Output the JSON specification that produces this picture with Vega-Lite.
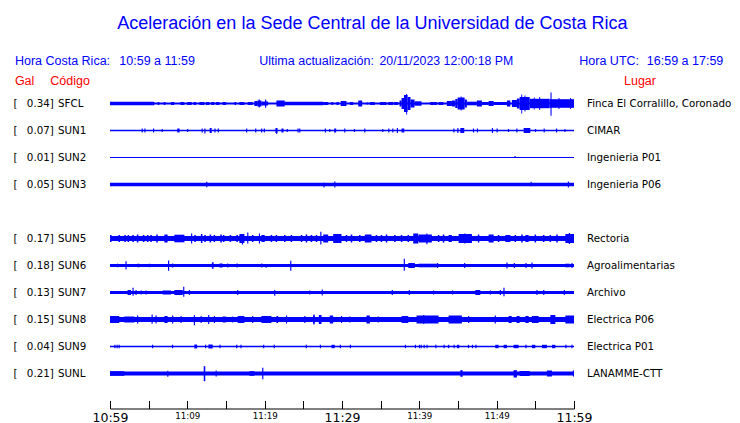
{
"$schema":"https://vega.github.io/schema/vega-lite/v6.json",
"background":"white",
"padding":{"left":13,"top":14,"right":4,"bottom":0},
"title":{"text":"Aceleración en la Sede Central de la Universidad de Costa Rica","font":"Liberation Sans","fontSize":18,"fontWeight":"normal","color":"#0000ff","anchor":"middle","frame":"bounds","offset":22},
"data":{"values":[
{"o":1,"s":"SFCL","g":"0.34","p":"Finca El Corralillo, Coronado"},
{"o":2,"s":"SUN1","g":"0.07","p":"CIMAR"},
{"o":3,"s":"SUN2","g":"0.01","p":"Ingenieria P01"},
{"o":4,"s":"SUN3","g":"0.05","p":"Ingenieria P06"},
{"o":5},
{"o":6,"s":"SUN5","g":"0.17","p":"Rectoria"},
{"o":7,"s":"SUN6","g":"0.18","p":"Agroalimentarias"},
{"o":8,"s":"SUN7","g":"0.13","p":"Archivo"},
{"o":9,"s":"SUN8","g":"0.15","p":"Electrica P06"},
{"o":10,"s":"SUN9","g":"0.04","p":"Electrica P01"},
{"o":11,"s":"SUNL","g":"0.21","p":"LANAMME-CTT"},

{"o":1,"a":0,"b":60,"lo":-0.9,"hi":0.9},
{"o":1,"a":0,"b":5.73,"lo":-1.8,"hi":1.8},
{"o":1,"a":6.16,"b":6.38,"lo":-1.5,"hi":1.5},
{"o":1,"a":6.94,"b":7.16,"lo":-1.5,"hi":1.5},
{"o":1,"a":7.89,"b":8.32,"lo":-1.5,"hi":1.5},
{"o":1,"a":9.1,"b":9.61,"lo":-1.5,"hi":1.5},
{"o":1,"a":9.97,"b":10.56,"lo":-1.5,"hi":1.5},
{"o":1,"a":10.82,"b":11.13,"lo":-1.5,"hi":1.5},
{"o":1,"a":11.56,"b":12.2,"lo":-1.5,"hi":1.5},
{"o":1,"a":12.42,"b":12.85,"lo":-1.5,"hi":1.5},
{"o":1,"a":13.07,"b":13.5,"lo":-1.5,"hi":1.5},
{"o":1,"a":13.72,"b":14.15,"lo":-1.5,"hi":1.5},
{"o":1,"a":14.57,"b":15.01,"lo":-1.5,"hi":1.5},
{"o":1,"a":16.09,"b":16.31,"lo":-1.5,"hi":1.5},
{"o":1,"a":16.73,"b":17.38,"lo":-1.5,"hi":1.5},
{"o":1,"a":17.81,"b":18.45,"lo":-1.5,"hi":1.5},
{"o":1,"a":18.67,"b":19.06,"lo":-2.5,"hi":2.5},
{"o":1,"a":19.06,"b":19.58,"lo":-3,"hi":3},
{"o":1,"a":19.22,"b":19.37,"lo":-4,"hi":4},
{"o":1,"a":19.58,"b":20.45,"lo":-2,"hi":2},
{"o":1,"a":20.05,"b":20.2,"lo":-4.3,"hi":4},
{"o":1,"a":21.52,"b":22.6,"lo":-3,"hi":3},
{"o":1,"a":22.6,"b":27.57,"lo":-1.8,"hi":1.8},
{"o":1,"a":27.57,"b":28.21,"lo":-1.5,"hi":1.5},
{"o":1,"a":28.64,"b":28.86,"lo":-1.5,"hi":1.5},
{"o":1,"a":29.29,"b":29.58,"lo":-1.5,"hi":1.5},
{"o":1,"a":29.84,"b":30.58,"lo":-2.5,"hi":2.5},
{"o":1,"a":31.01,"b":31.45,"lo":-1.5,"hi":1.5},
{"o":1,"a":32.1,"b":32.61,"lo":-3,"hi":3},
{"o":1,"a":33.17,"b":33.39,"lo":-1,"hi":1},
{"o":1,"a":33.6,"b":34.24,"lo":-1.5,"hi":1.5},
{"o":1,"a":34.89,"b":35.76,"lo":-1.5,"hi":1.5},
{"o":1,"a":35.98,"b":36.63,"lo":-1.5,"hi":1.5},
{"o":1,"a":36.75,"b":37.27,"lo":-1.5,"hi":1.5},
{"o":1,"a":37.44,"b":37.7,"lo":-3,"hi":3},
{"o":1,"a":37.7,"b":38.02,"lo":-5.5,"hi":5.5},
{"o":1,"a":38.02,"b":38.48,"lo":-8.5,"hi":8.5},
{"o":1,"a":38.3,"b":38.42,"lo":-11,"hi":9.5},
{"o":1,"a":38.48,"b":38.86,"lo":-6.5,"hi":6.5},
{"o":1,"a":38.86,"b":39.38,"lo":-4,"hi":4},
{"o":1,"a":39.38,"b":40.29,"lo":-2.2,"hi":2.2},
{"o":1,"a":41.41,"b":42.27,"lo":-1.5,"hi":1.5},
{"o":1,"a":42.49,"b":43.13,"lo":-1.5,"hi":1.5},
{"o":1,"a":43.56,"b":44.21,"lo":-2.5,"hi":2.5},
{"o":1,"a":44.21,"b":44.65,"lo":-3,"hi":3},
{"o":1,"a":44.65,"b":44.95,"lo":-4.5,"hi":4.5},
{"o":1,"a":44.95,"b":45.86,"lo":-6,"hi":6},
{"o":1,"a":45.35,"b":45.47,"lo":-7,"hi":7},
{"o":1,"a":45.86,"b":46.15,"lo":-4,"hi":4},
{"o":1,"a":46.15,"b":47.44,"lo":-1.8,"hi":1.8},
{"o":1,"a":47.44,"b":48.09,"lo":-3,"hi":3},
{"o":1,"a":48.09,"b":48.96,"lo":-1.5,"hi":1.5},
{"o":1,"a":48.96,"b":49.61,"lo":-2.5,"hi":2.5},
{"o":1,"a":49.61,"b":51.33,"lo":-1.5,"hi":1.5},
{"o":1,"a":51.33,"b":51.77,"lo":-3,"hi":3},
{"o":1,"a":51.97,"b":52.62,"lo":-3.5,"hi":3.5},
{"o":1,"a":52.62,"b":52.97,"lo":-5,"hi":5},
{"o":1,"a":52.97,"b":54.27,"lo":-6.5,"hi":6.5},
{"o":1,"a":53.18,"b":53.3,"lo":-10,"hi":9},
{"o":1,"a":53.6,"b":53.72,"lo":-8,"hi":8},
{"o":1,"a":54.27,"b":56.86,"lo":-4.7,"hi":4.7},
{"o":1,"a":54.8,"b":54.92,"lo":-6,"hi":6},
{"o":1,"a":55.5,"b":55.62,"lo":-6.5,"hi":6.5},
{"o":1,"a":56.86,"b":60,"lo":-4.3,"hi":4.3},
{"o":1,"a":56.96,"b":57.1,"lo":-12.3,"hi":11},
{"o":1,"a":58.0,"b":58.12,"lo":-5.5,"hi":5.5},
{"o":1,"a":59.5,"b":59.62,"lo":-5.5,"hi":5.5},

{"o":2,"a":0,"b":60,"lo":-0.7,"hi":0.7},
{"o":2,"a":4.09,"b":4.24,"lo":-2,"hi":2},
{"o":2,"a":4.44,"b":4.59,"lo":-2,"hi":2},
{"o":2,"a":5.56,"b":5.71,"lo":-2,"hi":2},
{"o":2,"a":6.68,"b":6.83,"lo":-1.5,"hi":1.5},
{"o":2,"a":8.7,"b":9.0,"lo":-2,"hi":2},
{"o":2,"a":9.97,"b":10.12,"lo":-1.5,"hi":1.5},
{"o":2,"a":11.85,"b":12.0,"lo":-2,"hi":2},
{"o":2,"a":12.2,"b":12.35,"lo":-3,"hi":2},
{"o":2,"a":12.89,"b":13.15,"lo":-2.5,"hi":2.5},
{"o":2,"a":13.5,"b":13.65,"lo":-2,"hi":2},
{"o":2,"a":13.93,"b":14.08,"lo":-2,"hi":2},
{"o":2,"a":17.6,"b":17.75,"lo":-2,"hi":2},
{"o":2,"a":18.77,"b":18.92,"lo":-2,"hi":2},
{"o":2,"a":19.54,"b":19.69,"lo":-2,"hi":2},
{"o":2,"a":19.88,"b":20.03,"lo":-2,"hi":2},
{"o":2,"a":21.39,"b":21.65,"lo":-2.5,"hi":2.5},
{"o":2,"a":21.5,"b":21.62,"lo":-3.5,"hi":2.5},
{"o":2,"a":22.17,"b":22.43,"lo":-2,"hi":2},
{"o":2,"a":22.85,"b":23.0,"lo":-1.5,"hi":1.5},
{"o":2,"a":24.24,"b":24.39,"lo":-2,"hi":2},
{"o":2,"a":24.46,"b":24.61,"lo":-2,"hi":2},
{"o":2,"a":27.77,"b":27.92,"lo":-2,"hi":2},
{"o":2,"a":28.34,"b":28.49,"lo":-1.5,"hi":1.5},
{"o":2,"a":28.99,"b":29.25,"lo":-2,"hi":2},
{"o":2,"a":30.28,"b":30.43,"lo":-2,"hi":2},
{"o":2,"a":31.53,"b":31.68,"lo":-1.5,"hi":1.5},
{"o":2,"a":32.87,"b":33.02,"lo":-2,"hi":2},
{"o":2,"a":35.2,"b":35.35,"lo":-1.5,"hi":1.5},
{"o":2,"a":35.98,"b":36.13,"lo":-2,"hi":2},
{"o":2,"a":36.5,"b":36.65,"lo":-2,"hi":2},
{"o":2,"a":37.09,"b":37.24,"lo":-2.5,"hi":2.5},
{"o":2,"a":37.7,"b":38.05,"lo":-2,"hi":2},
{"o":2,"a":44.39,"b":44.54,"lo":-2,"hi":2},
{"o":2,"a":44.91,"b":45.06,"lo":-2.5,"hi":2.5},
{"o":2,"a":45.3,"b":45.81,"lo":-2.5,"hi":2.5},
{"o":2,"a":46.93,"b":47.08,"lo":-2,"hi":2},
{"o":2,"a":47.44,"b":47.59,"lo":-2,"hi":2},
{"o":2,"a":49.38,"b":49.53,"lo":-2.5,"hi":2.5},
{"o":2,"a":49.99,"b":50.14,"lo":-2,"hi":2},
{"o":2,"a":51.46,"b":51.61,"lo":-1.5,"hi":1.5},
{"o":2,"a":52.54,"b":52.69,"lo":-2,"hi":2},
{"o":2,"a":53.49,"b":54.35,"lo":-2.5,"hi":2.5},
{"o":2,"a":54.95,"b":55.1,"lo":-1.5,"hi":1.5},
{"o":2,"a":56.07,"b":56.22,"lo":-2,"hi":2},
{"o":2,"a":57.67,"b":57.82,"lo":-2,"hi":2},
{"o":2,"a":58.75,"b":58.9,"lo":-1.5,"hi":1.5},

{"o":3,"a":0,"b":60,"lo":-0.6,"hi":0.6},
{"o":3,"a":52.3,"b":52.45,"lo":-0.6,"hi":1.5},

{"o":4,"a":0,"b":60,"lo":-1.7,"hi":1.7},
{"o":4,"a":12.44,"b":12.59,"lo":-2.7,"hi":2.7},
{"o":4,"a":27.6,"b":27.75,"lo":-3,"hi":1.7},
{"o":4,"a":29.0,"b":29.15,"lo":-3,"hi":3},
{"o":4,"a":54.38,"b":54.53,"lo":-1.7,"hi":2.7},
{"o":4,"a":59.2,"b":59.35,"lo":-3,"hi":3},

{"o":6,"a":0,"b":60,"lo":-2.5,"hi":2.5},
{"o":6,"a":0,"b":0.2,"lo":-3.5,"hi":3.5},
{"o":6,"a":1.1,"b":1.3,"lo":-3.5,"hi":3.5},
{"o":6,"a":1.85,"b":2.05,"lo":-3.5,"hi":3.5},
{"o":6,"a":2.27,"b":2.47,"lo":-3.5,"hi":3.5},
{"o":6,"a":2.88,"b":3.08,"lo":-3.5,"hi":3.5},
{"o":6,"a":3.47,"b":3.67,"lo":-4,"hi":4},
{"o":6,"a":4.25,"b":4.45,"lo":-3.5,"hi":3.5},
{"o":6,"a":4.77,"b":4.97,"lo":-3.5,"hi":3.5},
{"o":6,"a":5.21,"b":5.41,"lo":-3.5,"hi":3.5},
{"o":6,"a":5.98,"b":6.18,"lo":-4,"hi":4},
{"o":6,"a":7.03,"b":7.45,"lo":-4,"hi":4},
{"o":6,"a":8.32,"b":9.62,"lo":-3.8,"hi":3.8},
{"o":6,"a":10.48,"b":10.63,"lo":-5,"hi":5},
{"o":6,"a":10.9,"b":11.1,"lo":-3.5,"hi":3.5},
{"o":6,"a":11.75,"b":11.95,"lo":-4.5,"hi":4.5},
{"o":6,"a":12.19,"b":12.39,"lo":-3.5,"hi":3.5},
{"o":6,"a":12.88,"b":13.08,"lo":-4,"hi":4},
{"o":6,"a":13.4,"b":13.6,"lo":-3.5,"hi":3.5},
{"o":6,"a":14.26,"b":14.46,"lo":-4,"hi":4},
{"o":6,"a":14.6,"b":14.8,"lo":-3.5,"hi":3.5},
{"o":6,"a":15.47,"b":15.67,"lo":-3.5,"hi":3.5},
{"o":6,"a":16.34,"b":16.54,"lo":-3.5,"hi":3.5},
{"o":6,"a":16.73,"b":17.38,"lo":-4.5,"hi":4.5},
{"o":6,"a":17.05,"b":17.2,"lo":-6,"hi":4.5},
{"o":6,"a":17.74,"b":17.89,"lo":-5,"hi":6},
{"o":6,"a":18.35,"b":18.55,"lo":-3.5,"hi":3.5},
{"o":6,"a":19.25,"b":19.4,"lo":-5,"hi":5},
{"o":6,"a":19.58,"b":20.01,"lo":-3.5,"hi":3.5},
{"o":6,"a":20.77,"b":20.97,"lo":-3.5,"hi":3.5},
{"o":6,"a":21.42,"b":21.62,"lo":-3.5,"hi":3.5},
{"o":6,"a":22.5,"b":22.7,"lo":-3.5,"hi":3.5},
{"o":6,"a":23.36,"b":23.56,"lo":-3.5,"hi":3.5},
{"o":6,"a":24.66,"b":24.86,"lo":-3.5,"hi":3.5},
{"o":6,"a":25.3,"b":25.5,"lo":-4,"hi":4},
{"o":6,"a":25.95,"b":26.15,"lo":-3.5,"hi":3.5},
{"o":6,"a":26.6,"b":26.8,"lo":-3.5,"hi":3.5},
{"o":6,"a":27.19,"b":27.34,"lo":-6,"hi":6.7},
{"o":6,"a":27.57,"b":28.21,"lo":-4,"hi":4},
{"o":6,"a":28.86,"b":29.93,"lo":-4.5,"hi":4.5},
{"o":6,"a":30.48,"b":30.68,"lo":-3.5,"hi":3.5},
{"o":6,"a":31.13,"b":31.33,"lo":-4,"hi":4},
{"o":6,"a":32.2,"b":32.4,"lo":-3.5,"hi":3.5},
{"o":6,"a":32.95,"b":33.82,"lo":-4,"hi":4},
{"o":6,"a":34.36,"b":34.56,"lo":-3.5,"hi":3.5},
{"o":6,"a":35.01,"b":35.21,"lo":-3.5,"hi":3.5},
{"o":6,"a":35.66,"b":35.86,"lo":-4,"hi":4},
{"o":6,"a":36.73,"b":36.93,"lo":-3.5,"hi":3.5},
{"o":6,"a":37.6,"b":37.8,"lo":-3.5,"hi":3.5},
{"o":6,"a":38.47,"b":38.67,"lo":-3.5,"hi":3.5},
{"o":6,"a":39.21,"b":39.86,"lo":-5,"hi":5},
{"o":6,"a":39.9,"b":41.62,"lo":-4,"hi":4},
{"o":6,"a":40.9,"b":41.05,"lo":-5.7,"hi":5},
{"o":6,"a":42.39,"b":42.59,"lo":-3.5,"hi":3.5},
{"o":6,"a":43.03,"b":43.23,"lo":-4,"hi":4},
{"o":6,"a":43.78,"b":44.21,"lo":-3.5,"hi":3.5},
{"o":6,"a":45.08,"b":46.8,"lo":-4.5,"hi":4.5},
{"o":6,"a":45.8,"b":45.95,"lo":-5,"hi":5},
{"o":6,"a":47.56,"b":47.76,"lo":-4,"hi":4},
{"o":6,"a":48.96,"b":49.61,"lo":-4,"hi":4},
{"o":6,"a":50.15,"b":50.35,"lo":-3.5,"hi":3.5},
{"o":6,"a":51.12,"b":51.77,"lo":-3.5,"hi":3.5},
{"o":6,"a":52.31,"b":52.51,"lo":-3.5,"hi":3.5},
{"o":6,"a":53.17,"b":53.37,"lo":-4,"hi":4},
{"o":6,"a":53.71,"b":54.14,"lo":-3.5,"hi":3.5},
{"o":6,"a":54.9,"b":55.1,"lo":-4,"hi":4},
{"o":6,"a":55.98,"b":56.18,"lo":-3.5,"hi":3.5},
{"o":6,"a":56.84,"b":57.04,"lo":-3.5,"hi":3.5},
{"o":6,"a":57.7,"b":57.9,"lo":-4,"hi":4},
{"o":6,"a":58.88,"b":60,"lo":-4.5,"hi":4.5},
{"o":6,"a":59.33,"b":59.48,"lo":-5.5,"hi":5.5},

{"o":7,"a":0,"b":60,"lo":-1.4,"hi":1.4},
{"o":7,"a":0.9,"b":1.05,"lo":-1.8,"hi":1.8},
{"o":7,"a":2.0,"b":2.15,"lo":-4,"hi":4.3},
{"o":7,"a":3.57,"b":3.79,"lo":-1.8,"hi":1.8},
{"o":7,"a":5.02,"b":5.17,"lo":-1.8,"hi":1.8},
{"o":7,"a":7.5,"b":7.65,"lo":-5.3,"hi":5},
{"o":7,"a":8.03,"b":8.18,"lo":-2,"hi":2},
{"o":7,"a":13.15,"b":13.41,"lo":-2,"hi":2},
{"o":7,"a":13.22,"b":13.37,"lo":-3.5,"hi":3.5},
{"o":7,"a":14.15,"b":14.57,"lo":-2,"hi":2},
{"o":7,"a":15.15,"b":15.3,"lo":-2,"hi":2},
{"o":7,"a":16.37,"b":16.52,"lo":-2,"hi":2},
{"o":7,"a":19.55,"b":19.7,"lo":-2,"hi":2},
{"o":7,"a":20.12,"b":20.27,"lo":-2.3,"hi":1.4},
{"o":7,"a":23.3,"b":23.45,"lo":-5.3,"hi":4.7},
{"o":7,"a":37.98,"b":38.13,"lo":-5.3,"hi":6.7},
{"o":7,"a":38.57,"b":39.42,"lo":-2.5,"hi":2.5},
{"o":7,"a":39.9,"b":42.27,"lo":-1.8,"hi":1.8},
{"o":7,"a":42.29,"b":42.44,"lo":-2.5,"hi":2.5},
{"o":7,"a":45.79,"b":45.94,"lo":-2.5,"hi":2.5},
{"o":7,"a":51.26,"b":51.41,"lo":-3,"hi":3},
{"o":7,"a":52.21,"b":52.36,"lo":-2.5,"hi":2.5},
{"o":7,"a":53.72,"b":53.87,"lo":-2.5,"hi":2.5},
{"o":7,"a":54.49,"b":54.64,"lo":-3,"hi":3},
{"o":7,"a":58.88,"b":59.44,"lo":-1.8,"hi":1.8},
{"o":7,"a":59.67,"b":59.82,"lo":-2.5,"hi":2.5},

{"o":8,"a":0,"b":60,"lo":-1.4,"hi":1.4},
{"o":8,"a":2.28,"b":2.72,"lo":-2.5,"hi":2.5},
{"o":8,"a":2.91,"b":3.06,"lo":-3.3,"hi":4.7},
{"o":8,"a":3.29,"b":3.44,"lo":-2.5,"hi":2.5},
{"o":8,"a":3.94,"b":4.09,"lo":-2,"hi":2},
{"o":8,"a":4.59,"b":4.74,"lo":-2,"hi":2},
{"o":8,"a":6.81,"b":7.89,"lo":-2,"hi":2},
{"o":8,"a":8.32,"b":9.4,"lo":-2.5,"hi":2.5},
{"o":8,"a":9.46,"b":9.61,"lo":-4.3,"hi":5.7},
{"o":8,"a":10.19,"b":10.34,"lo":-2.5,"hi":2.5},
{"o":8,"a":16.44,"b":16.59,"lo":-2.5,"hi":2.5},
{"o":8,"a":21.23,"b":21.38,"lo":-3.3,"hi":2.5},
{"o":8,"a":25.76,"b":25.91,"lo":-2,"hi":2},
{"o":8,"a":27.37,"b":27.52,"lo":-3,"hi":3},
{"o":8,"a":36.43,"b":36.58,"lo":-2.5,"hi":2.5},
{"o":8,"a":38.63,"b":38.78,"lo":-2.5,"hi":2.5},
{"o":8,"a":41.77,"b":41.92,"lo":-2,"hi":2},
{"o":8,"a":44.23,"b":44.38,"lo":-2,"hi":2},
{"o":8,"a":47.24,"b":47.88,"lo":-2.5,"hi":2.5},
{"o":8,"a":49.11,"b":49.26,"lo":-2,"hi":2},
{"o":8,"a":50.4,"b":50.55,"lo":-2.5,"hi":2.5},
{"o":8,"a":50.87,"b":51.02,"lo":-3.7,"hi":4.7},
{"o":8,"a":55.14,"b":55.29,"lo":-2.5,"hi":2.5},
{"o":8,"a":56.01,"b":56.16,"lo":-2.5,"hi":2.5},
{"o":8,"a":58.68,"b":58.83,"lo":-2.5,"hi":2.5},

{"o":9,"a":0,"b":60,"lo":-2.5,"hi":2.5},
{"o":9,"a":0,"b":1.2,"lo":-3.5,"hi":3.5},
{"o":9,"a":1.85,"b":3.15,"lo":-3,"hi":3},
{"o":9,"a":3.5,"b":3.65,"lo":-4,"hi":4},
{"o":9,"a":5.37,"b":5.52,"lo":-4.3,"hi":5},
{"o":9,"a":5.88,"b":6.03,"lo":-4,"hi":4},
{"o":9,"a":7.03,"b":7.45,"lo":-3.5,"hi":3.5},
{"o":9,"a":8.03,"b":8.18,"lo":-4,"hi":4},
{"o":9,"a":9.12,"b":9.27,"lo":-3.5,"hi":3.5},
{"o":9,"a":10.84,"b":10.99,"lo":-5.7,"hi":4.3},
{"o":9,"a":11.71,"b":11.86,"lo":-3.5,"hi":3.5},
{"o":9,"a":12.69,"b":12.84,"lo":-4.5,"hi":4.5},
{"o":9,"a":13.43,"b":13.58,"lo":-3.5,"hi":3.5},
{"o":9,"a":14.57,"b":15.01,"lo":-3,"hi":3},
{"o":9,"a":15.8,"b":15.95,"lo":-3,"hi":3},
{"o":9,"a":16.51,"b":17.38,"lo":-3.5,"hi":3.5},
{"o":9,"a":18.38,"b":18.53,"lo":-3.5,"hi":3.5},
{"o":9,"a":19.58,"b":20.87,"lo":-3.5,"hi":3.5},
{"o":9,"a":21.52,"b":21.74,"lo":-3.5,"hi":3.5},
{"o":9,"a":22.75,"b":22.9,"lo":-4,"hi":4},
{"o":9,"a":25.11,"b":25.26,"lo":-3.5,"hi":3.5},
{"o":9,"a":26.27,"b":26.48,"lo":-4,"hi":4},
{"o":9,"a":26.3,"b":26.45,"lo":-5,"hi":5},
{"o":9,"a":27.0,"b":27.35,"lo":-4.5,"hi":4.5},
{"o":9,"a":28.42,"b":28.86,"lo":-4,"hi":4},
{"o":9,"a":29.86,"b":30.01,"lo":-3.5,"hi":3.5},
{"o":9,"a":30.94,"b":31.09,"lo":-3,"hi":3},
{"o":9,"a":33.17,"b":33.6,"lo":-4,"hi":4},
{"o":9,"a":34.61,"b":34.76,"lo":-3,"hi":3},
{"o":9,"a":37.7,"b":38.57,"lo":-3.5,"hi":3.5},
{"o":9,"a":39.64,"b":42.49,"lo":-4,"hi":4},
{"o":9,"a":40.5,"b":40.65,"lo":-4.5,"hi":4.5},
{"o":9,"a":43.78,"b":45.5,"lo":-4,"hi":4},
{"o":9,"a":46.3,"b":46.45,"lo":-3.5,"hi":3.5},
{"o":9,"a":49.75,"b":49.9,"lo":-4,"hi":4},
{"o":9,"a":51.55,"b":51.94,"lo":-3.5,"hi":3.5},
{"o":9,"a":52.58,"b":52.97,"lo":-3.5,"hi":3.5},
{"o":9,"a":53.71,"b":54.14,"lo":-3.5,"hi":3.5},
{"o":9,"a":54.56,"b":55.43,"lo":-3.5,"hi":3.5},
{"o":9,"a":56.94,"b":57.59,"lo":-4.5,"hi":4.5},
{"o":9,"a":58.88,"b":60,"lo":-4,"hi":4},

{"o":10,"a":0,"b":60,"lo":-0.7,"hi":0.7},
{"o":10,"a":0.56,"b":0.71,"lo":-1.7,"hi":1.7},
{"o":10,"a":0.85,"b":1.0,"lo":-1.7,"hi":1.7},
{"o":10,"a":1.11,"b":1.26,"lo":-1.7,"hi":1.7},
{"o":10,"a":5.44,"b":5.59,"lo":-1.7,"hi":1.7},
{"o":10,"a":8.02,"b":8.17,"lo":-1.7,"hi":1.7},
{"o":10,"a":10.91,"b":11.26,"lo":-2,"hi":2},
{"o":10,"a":12.29,"b":12.44,"lo":-1.7,"hi":1.7},
{"o":10,"a":12.72,"b":13.28,"lo":-2,"hi":2},
{"o":10,"a":14.15,"b":14.3,"lo":-1.7,"hi":1.7},
{"o":10,"a":16.31,"b":16.46,"lo":-1.7,"hi":1.7},
{"o":10,"a":16.86,"b":17.01,"lo":-1.7,"hi":1.7},
{"o":10,"a":19.8,"b":19.95,"lo":-1.7,"hi":1.7},
{"o":10,"a":21.17,"b":21.32,"lo":-1.7,"hi":1.7},
{"o":10,"a":25.31,"b":25.46,"lo":-1.7,"hi":1.7},
{"o":10,"a":27.13,"b":27.28,"lo":-1.7,"hi":1.7},
{"o":10,"a":28.64,"b":29.07,"lo":-1.7,"hi":1.7},
{"o":10,"a":29.71,"b":29.86,"lo":-1.7,"hi":1.7},
{"o":10,"a":31.01,"b":31.16,"lo":-1.7,"hi":1.7},
{"o":10,"a":38.13,"b":38.28,"lo":-1.7,"hi":1.7},
{"o":10,"a":39.42,"b":39.57,"lo":-1.7,"hi":1.7},
{"o":10,"a":39.94,"b":40.09,"lo":-1.7,"hi":1.7},
{"o":10,"a":40.16,"b":40.31,"lo":-1.7,"hi":1.7},
{"o":10,"a":40.55,"b":40.7,"lo":-1.7,"hi":1.7},
{"o":10,"a":40.93,"b":41.08,"lo":-1.7,"hi":1.7},
{"o":10,"a":42.06,"b":42.21,"lo":-1.7,"hi":1.7},
{"o":10,"a":43.13,"b":43.28,"lo":-1.7,"hi":1.7},
{"o":10,"a":43.69,"b":43.87,"lo":-1.7,"hi":1.7},
{"o":10,"a":44.43,"b":44.58,"lo":-1.7,"hi":1.7},
{"o":10,"a":44.86,"b":45.17,"lo":-1.7,"hi":1.7},
{"o":10,"a":46.28,"b":46.43,"lo":-1.7,"hi":1.7},
{"o":10,"a":46.8,"b":46.95,"lo":-1.7,"hi":1.7},
{"o":10,"a":47.24,"b":47.39,"lo":-1.7,"hi":1.7},
{"o":10,"a":49.82,"b":50.25,"lo":-1.7,"hi":1.7},
{"o":10,"a":50.9,"b":51.33,"lo":-1.7,"hi":1.7},
{"o":10,"a":52.19,"b":52.84,"lo":-1.7,"hi":1.7},
{"o":10,"a":53.71,"b":53.86,"lo":-1.7,"hi":1.7},
{"o":10,"a":54.56,"b":55.0,"lo":-1.7,"hi":1.7},
{"o":10,"a":55.86,"b":56.5,"lo":-1.7,"hi":1.7},
{"o":10,"a":57.15,"b":57.59,"lo":-1.7,"hi":1.7},
{"o":10,"a":58.88,"b":59.03,"lo":-1.7,"hi":1.7},
{"o":10,"a":59.66,"b":59.81,"lo":-1.7,"hi":1.7},

{"o":11,"a":0,"b":60,"lo":-2,"hi":2},
{"o":11,"a":0,"b":1.85,"lo":-2.3,"hi":2.3},
{"o":11,"a":7.4,"b":7.55,"lo":-3.3,"hi":2.7},
{"o":11,"a":12.12,"b":12.32,"lo":-7.7,"hi":7.3},
{"o":11,"a":13.65,"b":13.8,"lo":-3,"hi":3},
{"o":11,"a":18.03,"b":18.67,"lo":-2.3,"hi":2.3},
{"o":11,"a":19.68,"b":19.83,"lo":-5.7,"hi":5.7},
{"o":11,"a":45.3,"b":45.59,"lo":-3.3,"hi":3.3},
{"o":11,"a":52.19,"b":52.62,"lo":-4,"hi":3.3},
{"o":11,"a":52.97,"b":54.27,"lo":-2.5,"hi":2.5},
{"o":11,"a":56.5,"b":57.15,"lo":-3,"hi":3},
{"o":11,"a":59.85,"b":60,"lo":-3,"hi":3}
]},
"facet":{"row":{"field":"o","type":"ordinal","header":{"labels":false,"title":null}}},
"spacing":{"row":0},
"spec":{
"width":464,"height":27,
"encoding":{
  "x":{"type":"quantitative","scale":{"domain":[0,60],"nice":false,"zero":false},
   "axis":{"values":[0,5,10,15,20,25,30,35,40,45,50,55,60],"title":null,"grid":false,"tickSize":-8,"labelPadding":10.5,"offset":21.5,
    "labelExpr":"datum.value % 10 ? '' : timeFormat(datetime(2023, 10, 20, 10, 59 + datum.value), '%H:%M')",
    "labelFont":"DejaVu Sans","labelFontSize":{"condition":{"test":"datum.value % 30 == 0","value":12.5},"value":8.7},
    "labelColor":"black","domainColor":"black","tickColor":"black","labelOverlap":false,"labelFlush":false,"labelBound":false}},
  "y":{"type":"quantitative","scale":{"domain":[-13.5,13.5],"nice":false,"zero":false},"axis":null}
},
"layer":[
{"transform":[{"filter":"isValid(datum.a)"}],
 "mark":{"type":"rect","color":"#0000ff"},
 "encoding":{"x":{"field":"a"},"x2":{"field":"b"},"y":{"field":"lo"},"y2":{"field":"hi"}}},
{"transform":[{"filter":"isValid(datum.g)"}],
 "mark":{"type":"text","align":"left","baseline":"middle","dx":-96.4,"font":"DejaVu Sans","fontSize":10.3,"color":"black"},
 "encoding":{"x":{"datum":0},"y":{"datum":0},"text":{"value":"["}}},
{"transform":[{"filter":"isValid(datum.g)"},{"calculate":"datum.g + ']'","as":"lab"}],
 "mark":{"type":"text","align":"right","baseline":"middle","dx":-56.2,"font":"DejaVu Sans","fontSize":10.3,"color":"black"},
 "encoding":{"x":{"datum":0},"y":{"datum":0},"text":{"field":"lab"}}},
{"transform":[{"filter":"isValid(datum.g)"}],
 "mark":{"type":"text","align":"left","baseline":"middle","dx":-52,"font":"DejaVu Sans","fontSize":10.3,"color":"black"},
 "encoding":{"x":{"datum":0},"y":{"datum":0},"text":{"field":"s"}}},
{"transform":[{"filter":"isValid(datum.g)"}],
 "mark":{"type":"text","align":"left","baseline":"middle","dx":13,"font":"DejaVu Sans","fontSize":10.3,"color":"black"},
 "encoding":{"x":{"datum":60},"y":{"datum":0},"text":{"field":"p"}}},
{"transform":[{"filter":"datum.o == 1 && isValid(datum.g)"}],
 "mark":{"type":"text","align":"left","baseline":"middle","dx":-95.1,"dy":-42.8,"font":"Liberation Sans","fontSize":12.5,"color":"#0000ff"},
 "encoding":{"x":{"datum":0},"y":{"datum":0},"text":{"value":"Hora Costa Rica:"}}},
{"transform":[{"filter":"datum.o == 1 && isValid(datum.g)"}],
 "mark":{"type":"text","align":"left","baseline":"middle","dx":9.3,"dy":-42.8,"font":"Liberation Sans","fontSize":12.5,"color":"#0000ff"},
 "encoding":{"x":{"datum":0},"y":{"datum":0},"text":{"value":"10:59 a 11:59"}}},
{"transform":[{"filter":"datum.o == 1 && isValid(datum.g)"}],
 "mark":{"type":"text","align":"left","baseline":"middle","dx":149.3,"dy":-42.8,"font":"Liberation Sans","fontSize":12.5,"color":"#0000ff"},
 "encoding":{"x":{"datum":0},"y":{"datum":0},"text":{"value":"Ultima actualización:"}}},
{"transform":[{"filter":"datum.o == 1 && isValid(datum.g)"}],
 "mark":{"type":"text","align":"left","baseline":"middle","dx":269.5,"dy":-42.8,"font":"Liberation Sans","fontSize":12.3,"color":"#0000ff"},
 "encoding":{"x":{"datum":0},"y":{"datum":0},"text":{"value":"20/11/2023 12:00:18 PM"}}},
{"transform":[{"filter":"datum.o == 1 && isValid(datum.g)"}],
 "mark":{"type":"text","align":"left","baseline":"middle","dx":469.3,"dy":-42.8,"font":"Liberation Sans","fontSize":12.5,"color":"#0000ff"},
 "encoding":{"x":{"datum":0},"y":{"datum":0},"text":{"value":"Hora UTC:"}}},
{"transform":[{"filter":"datum.o == 1 && isValid(datum.g)"}],
 "mark":{"type":"text","align":"right","baseline":"middle","dx":613.3,"dy":-42.8,"font":"Liberation Sans","fontSize":12.5,"color":"#0000ff"},
 "encoding":{"x":{"datum":0},"y":{"datum":0},"text":{"value":"16:59 a 17:59"}}},
{"transform":[{"filter":"datum.o == 1 && isValid(datum.g)"}],
 "mark":{"type":"text","align":"left","baseline":"middle","dx":-95.1,"dy":-22.8,"font":"Liberation Sans","fontSize":12.5,"color":"#ff0000"},
 "encoding":{"x":{"datum":0},"y":{"datum":0},"text":{"value":"Gal"}}},
{"transform":[{"filter":"datum.o == 1 && isValid(datum.g)"}],
 "mark":{"type":"text","align":"left","baseline":"middle","dx":-59.7,"dy":-22.8,"font":"Liberation Sans","fontSize":12.5,"color":"#ff0000"},
 "encoding":{"x":{"datum":0},"y":{"datum":0},"text":{"value":"Código"}}},
{"transform":[{"filter":"datum.o == 1 && isValid(datum.g)"}],
 "mark":{"type":"text","align":"left","baseline":"middle","dx":514,"dy":-22.8,"font":"Liberation Sans","fontSize":12.5,"color":"#ff0000"},
 "encoding":{"x":{"datum":0},"y":{"datum":0},"text":{"value":"Lugar"}}}
]},
"config":{"view":{"stroke":null}}
}
